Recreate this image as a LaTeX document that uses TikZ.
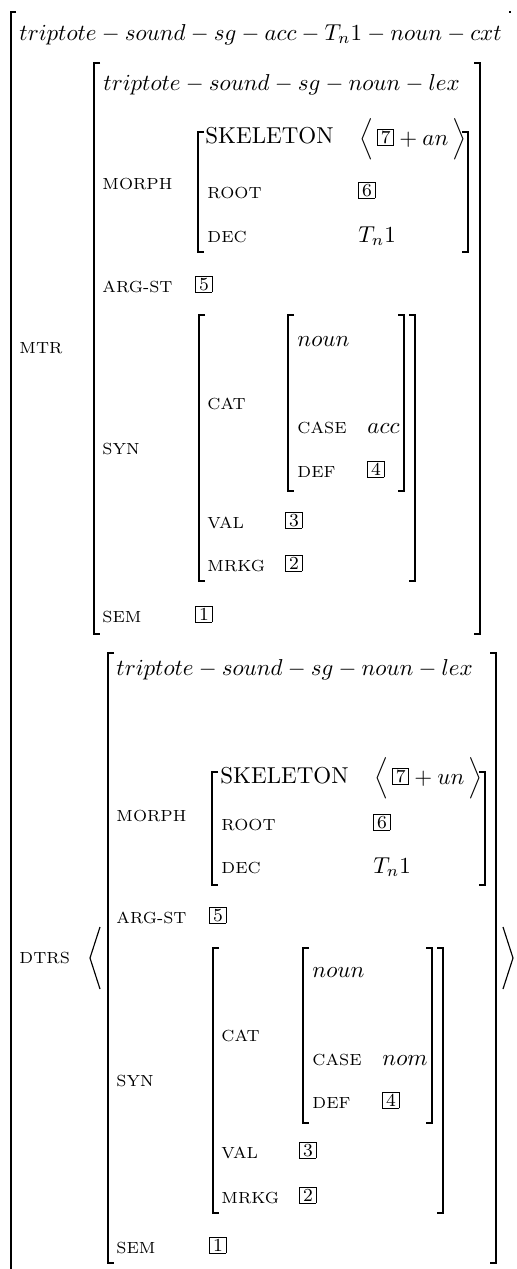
\documentclass[tikz,border=0pt]{standalone}
\usepackage{amsmath}
\newcommand\tagbox[1]{\raisebox{0.8pt}{\setlength\fboxsep{0pt}\setlength\fboxrule{0.4pt}\fbox{\makebox[6.6pt]{\rule[-0.8pt]{0pt}{6.6pt}\footnotesize #1}}}}
\newcommand\avmleft[3]{\draw[brk] ({#1+6},#2) -- (#1,#2) -- (#1,#3) -- ({#1+6},#3);}
\newcommand\avmright[3]{\draw[brk] ({#1-6},#2) -- (#1,#2) -- (#1,#3) -- ({#1-6},#3);}
\begin{document}
\begin{tikzpicture}[x=0.4348pt,y=-0.4348pt,
  brk/.style={line width=0.5pt},
  lbl/.style={anchor=base west,inner sep=0pt,font=\scriptsize},
  txt/.style={anchor=base west,inner sep=0pt}]
\useasboundingbox (0,0) rectangle (516,1269);
% outer bracket
\draw[brk] (16,12) -- (11,12) -- (11,1280);
\draw[brk] (509,12) -- (511,12);
\node[txt] (title) at (19,40) {$triptote - sound - sg - acc - T_n1 - noun - cxt$};
\node[lbl] (mtr) at (19,353) {MTR};
\node[lbl] (dtrs) at (19,963) {DTRS};

% ===== MTR =====
\avmleft{94}{63}{634}
\avmright{480}{63}{634}
\node[txt] (mlex) at (103,90) {$triptote - sound - sg - noun - lex$};
\node[lbl] (mmorph) at (102,189) {MORPH};
\avmleft{198}{132}{252}
\avmright{468}{132}{252}
\node[txt] (mskel) at (205,143) {SKELETON};
\node[txt] (mskelv) at (359,145) {$\Big\langle\,\tagbox{7} + an\,\Big\rangle$};
\node[lbl] (mroot) at (207,198) {ROOT};
\node[txt] (mrootv) at (358,198) {\tagbox{6}};
\node[lbl] (mdec) at (207,242) {DEC};
\node[txt] (mdecv) at (358,242) {$T_n1$};
\node[lbl] (marg) at (102,292) {ARG-ST};
\node[txt] (margv) at (195,292) {\tagbox{5}};
\node[lbl] (msyn) at (102,454) {SYN};
\avmleft{199}{315}{581}
\avmright{415}{315}{581}
\node[lbl] (mcat) at (207,409) {CAT};
\avmleft{288}{315}{491}
\avmright{404}{315}{491}
\node[txt] (mnoun) at (297,346) {$noun$};
\node[lbl] (mcase) at (297,433) {CASE};
\node[txt] (mcasev) at (367,433) {$acc$};
\node[lbl] (mdef) at (297,477) {DEF};
\node[txt] (mdefv) at (367,477) {\tagbox{4}};
\node[lbl] (mval) at (207,528) {VAL};
\node[txt] (mvalv) at (285,528) {\tagbox{3}};
\node[lbl] (mmrkg) at (207,571) {MRKG};
\node[txt] (mmrkgv) at (285,571) {\tagbox{2}};
\node[lbl] (msem) at (102,622) {SEM};
\node[txt] (msemv) at (195,622) {\tagbox{1}};

% ===== DTRS =====
\draw[brk] (100,927) -- (90,958) -- (100,989);
\draw[brk] (503,927) -- (513,958) -- (503,989);
\avmleft{108}{653}{1263}
\avmright{496}{653}{1263}
\node[txt] (dlex) at (116,675) {$triptote - sound - sg - noun - lex$};
\node[lbl] (dmorph) at (116,821) {MORPH};
\avmleft{212}{772}{885}
\avmright{485}{772}{885}
\node[txt] (dskel) at (220,783) {SKELETON};
\node[txt] (dskelv) at (374,784) {$\Big\langle\,\tagbox{7} + un\,\Big\rangle$};
\node[lbl] (droot) at (221,830) {ROOT};
\node[txt] (drootv) at (373,830) {\tagbox{6}};
\node[lbl] (ddec) at (221,873) {DEC};
\node[txt] (ddecv) at (373,873) {$T_n1$};
\node[lbl] (darg) at (116,923) {ARG-ST};
\node[txt] (dargv) at (209,923) {\tagbox{5}};
\node[lbl] (dsyn) at (116,1086) {SYN};
\avmleft{213}{948}{1213}
\avmright{443}{948}{1213}
\node[lbl] (dcat) at (221,1041) {CAT};
\avmleft{303}{948}{1123}
\avmright{432}{948}{1123}
\node[txt] (dnoun) at (312,977) {$noun$};
\node[lbl] (dcase) at (312,1065) {CASE};
\node[txt] (dcasev) at (382,1065) {$nom$};
\node[lbl] (ddef) at (312,1108) {DEF};
\node[txt] (ddefv) at (382,1108) {\tagbox{4}};
\node[lbl] (dval) at (221,1158) {VAL};
\node[txt] (dvalv) at (299,1158) {\tagbox{3}};
\node[lbl] (dmrkg) at (221,1203) {MRKG};
\node[txt] (dmrkgv) at (299,1203) {\tagbox{2}};
\node[lbl] (dsem) at (116,1253) {SEM};
\node[txt] (dsemv) at (209,1253) {\tagbox{1}};
\end{tikzpicture}
\end{document}
